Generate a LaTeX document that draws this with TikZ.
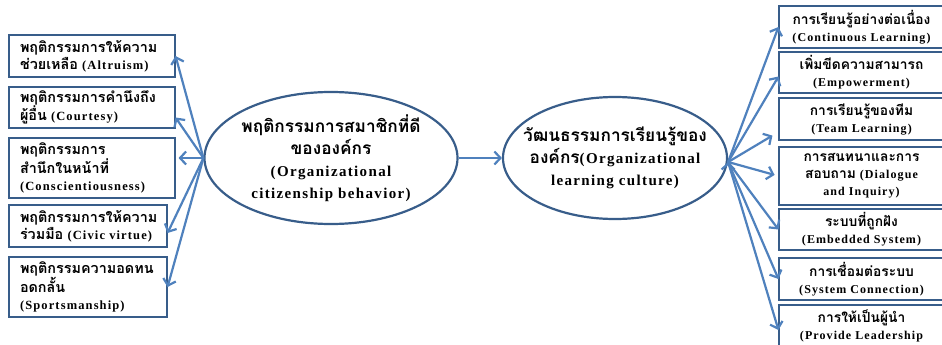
\documentclass[tikz,border=0pt]{standalone}
\usepackage{fontspec}
\setmainfont{Liberation Serif}[LetterSpace=9]
\newfontfamily\thaifont[Script=Thai,Scale=1.15]{Loma}
\newcommand{\tht}[1]{{\thaifont #1}}
\usetikzlibrary{arrows.meta,shapes.geometric}
\definecolor{linkblue}{RGB}{79,129,189}
\definecolor{edgeblue}{RGB}{56,93,138}
\tikzstyle{leftbox}=[rectangle,draw=edgeblue,line width=1.1pt,inner xsep=11pt,
  text width=144pt,align=left,font=\bfseries\fontsize{12.5}{17}\selectfont]
\tikzstyle{rightbox}=[rectangle,draw=edgeblue,line width=1.1pt,inner xsep=4pt,
  text width=157pt,align=center,font=\bfseries\fontsize{12}{17}\selectfont]
\tikzstyle{mainell}=[ellipse,draw=edgeblue,line width=2.2pt,inner xsep=-40pt,
  inner ysep=0pt,align=center,font=\bfseries\fontsize{15}{22}\selectfont]
\tikzstyle{link}=[draw=linkblue,line width=2.2pt]

\begin{document}
\begin{tikzpicture}[->,>={Straight Barb[length=6pt,width=13pt]},x=1pt,y=-1pt]
    \clip (0,0) rectangle (942,345);

    % left side
    \node[leftbox,minimum height=42pt] (altru) at (92,56)
        {\tht{พฤติกรรมการให้ความ}\\\tht{ช่วยเหลือ} (Altruism)};
    \node[leftbox,minimum height=41pt] (court) at (92,107.5)
        {\tht{พฤติกรรมการคำนึงถึง}\\\tht{ผู้อื่น} (Courtesy)};
    \node[leftbox,minimum height=60pt] (consc) at (92,168)
        {\tht{พฤติกรรมการ}\\\tht{สำนึกในหน้าที่}\\(Conscientiousness)};
    \node[leftbox,text width=136pt,minimum height=42pt] (civic) at (88,226)
        {\tht{พฤติกรรมการให้ความ}\\\tht{ร่วมมือ} (Civic virtue)};
    \node[leftbox,text width=136pt,minimum height=60pt] (sport) at (88,287)
        {\tht{พฤติกรรมความอดทน}\\\tht{อดกลั้น}\\(Sportsmanship)};

    % the two ellipses
    \node[mainell,minimum width=253pt,minimum height=132pt] (ocb) at (331,158)
        {\tht{พฤติกรรมการสมาชิกที่ดี}\\\tht{ขององค์กร}\\(Organizational\\citizenship behavior)};
    \node[mainell,minimum width=224pt,minimum height=122pt] (olc) at (615,158)
        {\tht{วัฒนธรรมการเรียนรู้ของ}\\\tht{องค์กร}(Organizational\\learning culture)};

    % right side
    \node[rightbox,minimum height=42pt] (contl) at (861.5,27)
        {\tht{การเรียนรู้อย่างต่อเนื่อง}\\(Continuous Learning)};
    \node[rightbox,minimum height=41pt] (empow) at (861.5,72.5)
        {\tht{เพิ่มขีดความสามารถ}\\(Empowerment)};
    \node[rightbox,minimum height=42pt] (teaml) at (861.5,119)
        {\tht{การเรียนรู้ของทีม}\\(Team Learning)};
    \node[rightbox,minimum height=58pt] (dialo) at (861.5,176)
        {\tht{การสนทนาและการ}\\\tht{สอบถาม} (Dialogue\\and Inquiry)};
    \node[rightbox,minimum height=41pt] (embed) at (861.5,229.5)
        {\tht{ระบบที่ถูกฝัง}\\(Embedded System)};
    \node[rightbox,minimum height=42pt] (sysco) at (861.5,279)
        {\tht{การเชื่อมต่อระบบ}\\(System Connection)};
    \node[rightbox,minimum height=42pt] (leade) at (861.5,326)
        {\tht{การให้เป็นผู้นำ}\\(Provide Leadership};

    \path[link]
        (ocb.west) edge (altru.east)
            edge ([yshift=-10pt]court.east)
            edge [shorten >=3pt] ([yshift=10pt]consc.east)
            edge ([yshift=-7pt]civic.east)
            edge (sport.east)
        (ocb.east) edge (olc.west)
        ([yshift=-4pt]olc.east) edge (contl.west)
            edge ([yshift=-4pt]empow.west)
            edge [shorten >=7pt] ([yshift=-13pt]teaml.west)
            edge [shorten >=4pt] (dialo.west)
            edge (embed.west)
            edge (sysco.west)
            edge ([yshift=-4pt]leade.west);
\end{tikzpicture}
\end{document}
